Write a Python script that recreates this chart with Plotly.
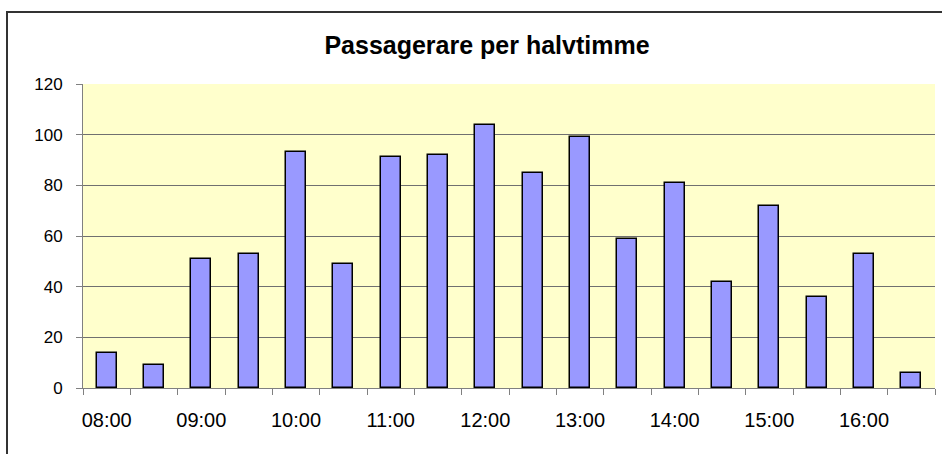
import plotly.graph_objects as go

# ---- data ----
categories = ["08:00", "08:30", "09:00", "09:30", "10:00", "10:30", "11:00", "11:30",
              "12:00", "12:30", "13:00", "13:30", "14:00", "14:30", "15:00", "15:30",
              "16:00", "16:30"]
passengers = [14, 9, 51, 53, 93, 49, 91, 92, 104, 85, 99, 59, 81, 42, 72, 36, 53, 6]
y_ticks = [0, 20, 40, 60, 80, 100, 120]
title_text = "Passagerare per halvtimme"

W, H = 942, 454
ML, MT = 83, 84
MR = W - 935
MB = H - 388
PW, PH = W - ML - MR, H - MT - MB

x_idx = list(range(len(categories)))
label_idx = x_idx[::2]
label_txt = categories[::2]

FONT = "Liberation Sans, Arial, sans-serif"

fig = go.Figure()
fig.add_trace(go.Bar(
    x=x_idx, y=passengers, width=0.42,
    marker=dict(color="#9999FF", line=dict(color="#000000", width=1.5)),
    hoverinfo="y",
))

# frame (chart area border), extends past the window on right/bottom
fx0 = (7 - ML) / PW
fy1 = (388 - 12) / PH
fig.add_shape(type="rect", xref="paper", yref="paper",
              x0=fx0, x1=1.5, y0=-1.0, y1=fy1,
              line=dict(color="#333333", width=2), fillcolor="rgba(0,0,0,0)",
              layer="below")

fig.update_layout(
    width=W, height=H,
    margin=dict(l=ML, r=MR, t=MT, b=MB, pad=0),
    paper_bgcolor="#FFFFFF",
    plot_bgcolor="#FFFFCC",
    showlegend=False,
    bargap=0,
    title=dict(text="<b>" + title_text + "</b>", xref="container", yref="container",
               x=487 / W, xanchor="center", y=1 - 45 / H, yanchor="middle",
               font=dict(family=FONT, size=25, color="#000000")),
    font=dict(family=FONT, size=17, color="#000000"),
)

fig.update_xaxes(
    range=[-0.5, len(categories) - 0.5],
    tickmode="array", tickvals=label_idx, ticktext=label_txt,
    ticks="", showgrid=False, zeroline=False,
    showline=True, linecolor="#808080", linewidth=1,
    ticklabelstandoff=14,
    minor=dict(tick0=-0.5, dtick=1, ticks="outside", ticklen=6,
               tickcolor="#808080", tickwidth=1, showgrid=False),
    tickfont=dict(family=FONT, size=20, color="#000000"),
    fixedrange=True,
)
fig.update_yaxes(
    range=[0, 120], tickmode="array", tickvals=y_ticks,
    ticks="outside", ticklen=6, tickcolor="#808080", tickwidth=1,
    showgrid=True, gridcolor="#707070", gridwidth=1,
    zeroline=False,
    showline=True, linecolor="#808080", linewidth=1,
    ticklabelstandoff=10,
    tickfont=dict(family=FONT, size=17, color="#000000"),
    fixedrange=True,
)

fig.write_html("out.html",
               config={"displayModeBar": False},
               post_script="document.body.style.margin='0';document.body.style.overflow='hidden';")
